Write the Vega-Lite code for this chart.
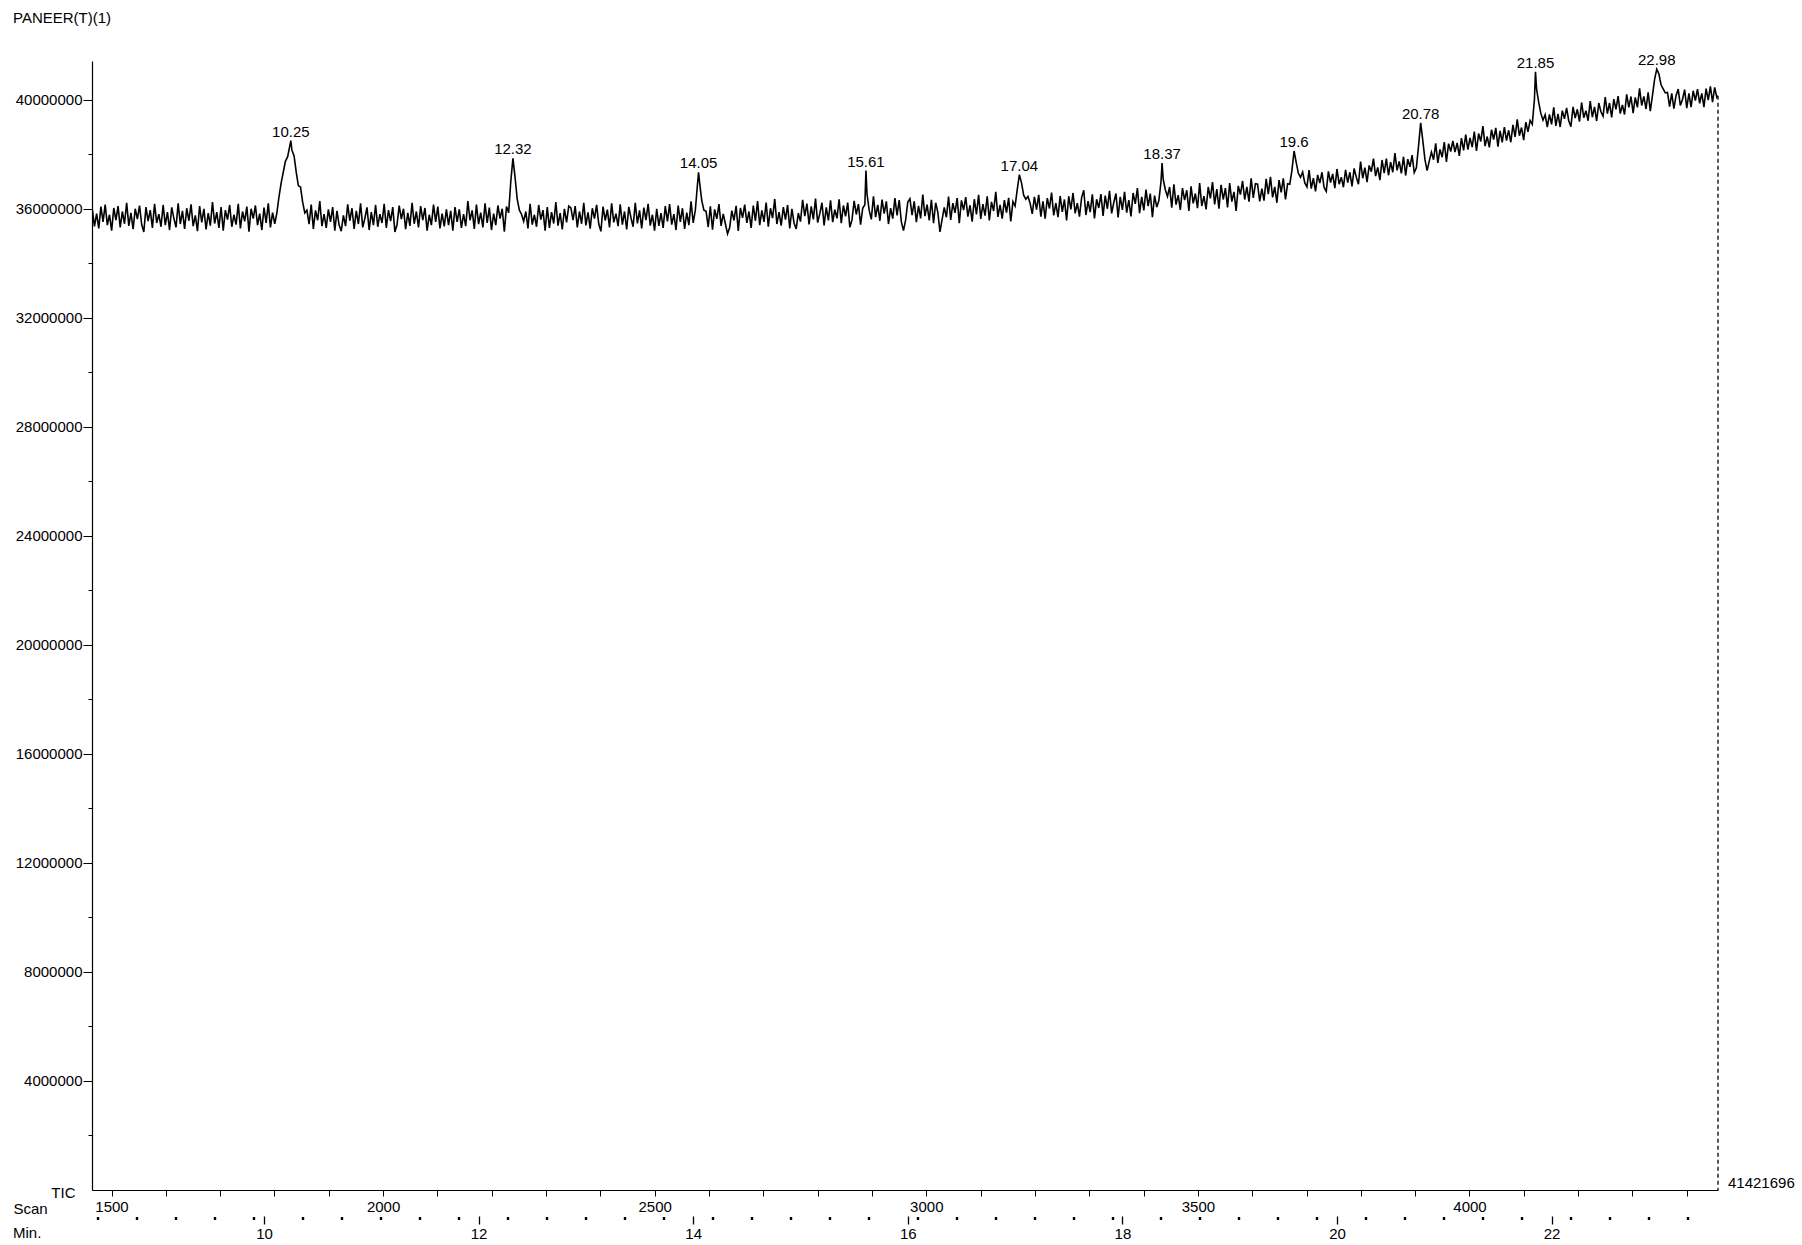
{
"$schema":"https://vega.github.io/schema/vega-lite/v6.json",
"width":1626,"height":1129,
"autosize":{"type":"none"},
"padding":{"left":92,"top":61,"right":84,"bottom":55},
"background":"white",
"title":{"text":"PANEER(T)(1)","anchor":"start","frame":"group","dx":-79,"offset":15,"baseline":"alphabetic","font":"Liberation Sans","fontSize":15,"fontWeight":"normal","color":"black"},
"config":{"view":{"stroke":null},"axis":{"grid":false,"domainColor":"black","tickColor":"black","labelColor":"black","titleColor":"black","labelFont":"Liberation Sans","titleFont":"Liberation Sans","labelFontSize":15,"titleFontSize":15,"titleFontWeight":"normal","labelOverlap":false,"labelFlush":false,"labelBound":false}},
"datasets":{
"tic":[
{"t":8.40,"v":35.98e6},{"t":8.42,"v":35.35e6},{"t":8.44,"v":35.82e6},{"t":8.46,"v":35.28e6},{"t":8.48,"v":36.08e6},{"t":8.50,"v":35.52e6},{"t":8.52,"v":36.15e6},{"t":8.54,"v":35.40e6},{"t":8.56,"v":35.78e6},{"t":8.58,"v":35.20e6},
{"t":8.60,"v":36.03e6},{"t":8.62,"v":35.58e6},{"t":8.64,"v":36.10e6},{"t":8.66,"v":35.32e6},{"t":8.68,"v":35.90e6},{"t":8.70,"v":35.45e6},{"t":8.72,"v":36.22e6},{"t":8.74,"v":35.37e6},{"t":8.76,"v":35.85e6},{"t":8.78,"v":35.25e6},
{"t":8.80,"v":36.00e6},{"t":8.82,"v":35.62e6},{"t":8.84,"v":36.12e6},{"t":8.86,"v":35.42e6},{"t":8.88,"v":35.15e6},{"t":8.90,"v":36.06e6},{"t":8.92,"v":35.55e6},{"t":8.94,"v":35.95e6},{"t":8.96,"v":35.30e6},{"t":8.98,"v":36.18e6},
{"t":9.00,"v":35.48e6},{"t":9.02,"v":35.80e6},{"t":9.04,"v":35.34e6},{"t":9.06,"v":36.14e6},{"t":9.08,"v":35.40e6},{"t":9.10,"v":35.88e6},{"t":9.12,"v":35.22e6},{"t":9.14,"v":36.05e6},{"t":9.16,"v":35.65e6},{"t":9.18,"v":35.32e6},
{"t":9.20,"v":36.20e6},{"t":9.22,"v":35.44e6},{"t":9.24,"v":35.92e6},{"t":9.26,"v":35.26e6},{"t":9.28,"v":36.02e6},{"t":9.30,"v":35.56e6},{"t":9.32,"v":36.16e6},{"t":9.34,"v":35.36e6},{"t":9.36,"v":35.76e6},{"t":9.38,"v":35.18e6},
{"t":9.40,"v":36.10e6},{"t":9.42,"v":35.50e6},{"t":9.44,"v":36.00e6},{"t":9.46,"v":35.24e6},{"t":9.48,"v":35.84e6},{"t":9.50,"v":35.38e6},{"t":9.52,"v":36.25e6},{"t":9.54,"v":35.46e6},{"t":9.56,"v":35.88e6},{"t":9.58,"v":35.30e6},
{"t":9.60,"v":36.06e6},{"t":9.62,"v":35.20e6},{"t":9.64,"v":35.95e6},{"t":9.66,"v":35.60e6},{"t":9.68,"v":36.14e6},{"t":9.70,"v":35.34e6},{"t":9.72,"v":35.78e6},{"t":9.74,"v":35.42e6},{"t":9.76,"v":36.18e6},{"t":9.78,"v":35.28e6},
{"t":9.80,"v":35.90e6},{"t":9.82,"v":35.54e6},{"t":9.84,"v":36.08e6},{"t":9.86,"v":35.16e6},{"t":9.88,"v":36.00e6},{"t":9.90,"v":35.64e6},{"t":9.92,"v":36.12e6},{"t":9.94,"v":35.40e6},{"t":9.96,"v":35.82e6},{"t":9.98,"v":35.22e6},
{"t":10.00,"v":36.04e6},{"t":10.02,"v":35.48e6},{"t":10.04,"v":36.20e6},{"t":10.06,"v":35.32e6},{"t":10.08,"v":35.86e6},
{"t":10.10,"v":35.45e6},{"t":10.12,"v":35.85e6},{"t":10.14,"v":36.45e6},{"t":10.16,"v":36.95e6},{"t":10.18,"v":37.35e6},{"t":10.20,"v":37.75e6},{"t":10.22,"v":37.90e6},{"t":10.24,"v":38.30e6},{"t":10.25,"v":38.50e6},{"t":10.26,"v":38.15e6},
{"t":10.28,"v":37.95e6},{"t":10.30,"v":37.35e6},{"t":10.32,"v":36.85e6},{"t":10.34,"v":36.80e6},{"t":10.36,"v":36.25e6},{"t":10.38,"v":35.85e6},{"t":10.40,"v":35.95e6},
{"t":10.42,"v":35.44e6},{"t":10.44,"v":36.15e6},{"t":10.46,"v":35.26e6},{"t":10.48,"v":35.94e6},{"t":10.50,"v":35.58e6},{"t":10.52,"v":36.28e6},{"t":10.54,"v":35.36e6},{"t":10.56,"v":35.80e6},{"t":10.58,"v":35.30e6},{"t":10.60,"v":35.98e6},
{"t":10.62,"v":35.52e6},{"t":10.64,"v":36.06e6},{"t":10.66,"v":35.20e6},{"t":10.68,"v":35.92e6},{"t":10.70,"v":35.40e6},{"t":10.72,"v":35.18e6},{"t":10.74,"v":35.76e6},{"t":10.76,"v":35.36e6},{"t":10.78,"v":36.16e6},{"t":10.80,"v":35.56e6},
{"t":10.82,"v":36.02e6},{"t":10.84,"v":35.26e6},{"t":10.86,"v":35.92e6},{"t":10.88,"v":35.44e6},{"t":10.90,"v":36.20e6},{"t":10.92,"v":35.32e6},{"t":10.94,"v":35.65e6},{"t":10.96,"v":36.05e6},{"t":10.98,"v":35.22e6},{"t":11.00,"v":35.88e6},
{"t":11.02,"v":35.40e6},{"t":11.04,"v":36.14e6},{"t":11.06,"v":35.34e6},{"t":11.08,"v":35.80e6},{"t":11.10,"v":35.48e6},{"t":11.12,"v":36.18e6},{"t":11.14,"v":35.30e6},{"t":11.16,"v":35.95e6},{"t":11.18,"v":35.55e6},{"t":11.20,"v":36.06e6},
{"t":11.22,"v":35.15e6},{"t":11.24,"v":35.42e6},{"t":11.26,"v":36.12e6},{"t":11.28,"v":35.62e6},{"t":11.30,"v":36.00e6},{"t":11.32,"v":35.25e6},{"t":11.34,"v":35.85e6},{"t":11.36,"v":35.37e6},{"t":11.38,"v":36.22e6},{"t":11.40,"v":35.45e6},
{"t":11.42,"v":35.90e6},{"t":11.44,"v":35.32e6},{"t":11.46,"v":36.10e6},{"t":11.48,"v":35.58e6},{"t":11.50,"v":36.03e6},{"t":11.52,"v":35.20e6},{"t":11.54,"v":35.78e6},{"t":11.56,"v":35.40e6},{"t":11.58,"v":36.15e6},{"t":11.60,"v":35.52e6},
{"t":11.62,"v":36.08e6},{"t":11.64,"v":35.28e6},{"t":11.66,"v":35.82e6},{"t":11.68,"v":35.35e6},{"t":11.70,"v":35.98e6},{"t":11.72,"v":35.40e6},{"t":11.74,"v":35.92e6},{"t":11.76,"v":35.20e6},{"t":11.78,"v":36.06e6},{"t":11.80,"v":35.52e6},
{"t":11.82,"v":35.98e6},{"t":11.84,"v":35.30e6},{"t":11.86,"v":35.80e6},{"t":11.88,"v":35.36e6},{"t":11.90,"v":36.28e6},{"t":11.92,"v":35.58e6},{"t":11.94,"v":35.94e6},{"t":11.96,"v":35.26e6},{"t":11.98,"v":36.15e6},{"t":12.00,"v":35.44e6},
{"t":12.02,"v":35.86e6},{"t":12.04,"v":35.32e6},{"t":12.06,"v":36.20e6},{"t":12.08,"v":35.48e6},{"t":12.10,"v":36.04e6},{"t":12.12,"v":35.22e6},{"t":12.14,"v":35.82e6},{"t":12.16,"v":35.40e6},{"t":12.18,"v":36.12e6},{"t":12.20,"v":35.64e6},
{"t":12.22,"v":36.00e6},{"t":12.24,"v":35.16e6},{"t":12.26,"v":36.08e6},
{"t":12.28,"v":35.85e6},{"t":12.30,"v":37.00e6},{"t":12.32,"v":37.85e6},{"t":12.34,"v":37.15e6},{"t":12.36,"v":36.35e6},{"t":12.38,"v":35.95e6},{"t":12.40,"v":35.80e6},
{"t":12.42,"v":35.54e6},{"t":12.44,"v":35.90e6},{"t":12.46,"v":35.28e6},{"t":12.48,"v":36.18e6},{"t":12.50,"v":35.42e6},{"t":12.52,"v":35.78e6},{"t":12.54,"v":35.34e6},{"t":12.56,"v":36.14e6},{"t":12.58,"v":35.60e6},{"t":12.60,"v":35.95e6},
{"t":12.62,"v":35.20e6},{"t":12.64,"v":36.06e6},{"t":12.66,"v":35.30e6},{"t":12.68,"v":35.88e6},{"t":12.70,"v":35.46e6},{"t":12.72,"v":36.25e6},{"t":12.74,"v":35.38e6},{"t":12.76,"v":35.84e6},{"t":12.78,"v":35.24e6},{"t":12.80,"v":36.00e6},
{"t":12.82,"v":35.50e6},{"t":12.84,"v":36.10e6},{"t":12.86,"v":36.03e6},{"t":12.88,"v":35.58e6},{"t":12.90,"v":36.10e6},{"t":12.92,"v":35.32e6},{"t":12.94,"v":35.90e6},{"t":12.96,"v":35.45e6},{"t":12.98,"v":36.22e6},{"t":13.00,"v":35.39e6},
{"t":13.02,"v":35.87e6},{"t":13.04,"v":35.27e6},{"t":13.06,"v":36.02e6},{"t":13.08,"v":35.64e6},{"t":13.10,"v":36.14e6},{"t":13.12,"v":35.44e6},{"t":13.14,"v":35.17e6},{"t":13.16,"v":36.08e6},{"t":13.18,"v":35.57e6},{"t":13.20,"v":35.97e6},
{"t":13.22,"v":35.32e6},{"t":13.24,"v":36.20e6},{"t":13.26,"v":35.50e6},{"t":13.28,"v":35.82e6},{"t":13.30,"v":35.36e6},{"t":13.32,"v":36.16e6},{"t":13.34,"v":35.42e6},{"t":13.36,"v":35.90e6},{"t":13.38,"v":35.24e6},{"t":13.40,"v":36.07e6},
{"t":13.42,"v":35.67e6},{"t":13.44,"v":35.34e6},{"t":13.46,"v":36.22e6},{"t":13.48,"v":35.46e6},{"t":13.50,"v":35.94e6},{"t":13.52,"v":35.28e6},{"t":13.54,"v":36.04e6},{"t":13.56,"v":35.58e6},{"t":13.58,"v":36.18e6},{"t":13.60,"v":35.38e6},
{"t":13.62,"v":35.78e6},{"t":13.64,"v":35.20e6},{"t":13.66,"v":36.00e6},{"t":13.68,"v":35.37e6},{"t":13.70,"v":35.84e6},{"t":13.72,"v":35.30e6},{"t":13.74,"v":36.10e6},{"t":13.76,"v":35.54e6},{"t":13.78,"v":36.17e6},{"t":13.80,"v":35.42e6},
{"t":13.82,"v":35.80e6},{"t":13.84,"v":35.22e6},{"t":13.86,"v":36.12e6},{"t":13.88,"v":35.52e6},{"t":13.90,"v":36.02e6},{"t":13.92,"v":35.26e6},{"t":13.94,"v":35.86e6},{"t":13.96,"v":35.40e6},{"t":13.98,"v":36.27e6},{"t":14.00,"v":35.48e6},
{"t":14.02,"v":35.95e6},{"t":14.04,"v":36.90e6},{"t":14.05,"v":37.34e6},{"t":14.06,"v":36.95e6},{"t":14.08,"v":36.30e6},{"t":14.10,"v":35.95e6},
{"t":14.12,"v":35.91e6},{"t":14.14,"v":35.33e6},{"t":14.16,"v":36.09e6},{"t":14.18,"v":35.23e6},{"t":14.20,"v":35.98e6},{"t":14.22,"v":35.63e6},{"t":14.24,"v":36.17e6},{"t":14.26,"v":35.37e6},{"t":14.28,"v":35.81e6},{"t":14.30,"v":35.45e6},
{"t":14.32,"v":35.08e6},{"t":14.34,"v":35.31e6},{"t":14.36,"v":35.93e6},{"t":14.38,"v":35.57e6},{"t":14.40,"v":36.11e6},{"t":14.42,"v":35.19e6},{"t":14.44,"v":36.03e6},{"t":14.46,"v":35.67e6},{"t":14.48,"v":36.15e6},{"t":14.50,"v":35.48e6},
{"t":14.52,"v":35.90e6},{"t":14.54,"v":35.30e6},{"t":14.56,"v":36.12e6},{"t":14.58,"v":35.56e6},{"t":14.60,"v":36.28e6},{"t":14.62,"v":35.40e6},{"t":14.64,"v":35.94e6},{"t":14.66,"v":35.52e6},{"t":14.68,"v":36.23e6},{"t":14.70,"v":35.34e6},
{"t":14.72,"v":36.02e6},{"t":14.74,"v":35.66e6},{"t":14.76,"v":36.36e6},{"t":14.78,"v":35.44e6},{"t":14.80,"v":35.88e6},{"t":14.82,"v":35.38e6},{"t":14.84,"v":36.06e6},{"t":14.86,"v":35.60e6},{"t":14.88,"v":36.14e6},{"t":14.90,"v":35.28e6},
{"t":14.92,"v":36.00e6},{"t":14.94,"v":35.48e6},{"t":14.96,"v":35.26e6},{"t":14.98,"v":35.84e6},{"t":15.00,"v":35.53e6},{"t":15.02,"v":36.33e6},{"t":15.04,"v":35.73e6},{"t":15.06,"v":36.19e6},{"t":15.08,"v":35.43e6},{"t":15.10,"v":36.09e6},
{"t":15.12,"v":35.61e6},{"t":15.14,"v":36.37e6},{"t":15.16,"v":35.49e6},{"t":15.18,"v":35.82e6},{"t":15.20,"v":36.22e6},{"t":15.22,"v":35.39e6},{"t":15.24,"v":36.05e6},{"t":15.26,"v":35.57e6},{"t":15.28,"v":36.31e6},{"t":15.30,"v":35.51e6},
{"t":15.32,"v":35.97e6},{"t":15.34,"v":35.65e6},{"t":15.36,"v":36.35e6},{"t":15.38,"v":35.47e6},{"t":15.40,"v":36.12e6},{"t":15.42,"v":35.72e6},{"t":15.44,"v":36.23e6},{"t":15.46,"v":35.32e6},{"t":15.48,"v":35.59e6},{"t":15.50,"v":36.29e6},
{"t":15.52,"v":35.79e6},{"t":15.54,"v":36.17e6},{"t":15.56,"v":35.42e6},{"t":15.58,"v":36.02e6},
{"t":15.60,"v":36.15e6},{"t":15.61,"v":37.40e6},{"t":15.62,"v":36.55e6},{"t":15.64,"v":35.95e6},
{"t":15.66,"v":35.61e6},{"t":15.68,"v":36.46e6},{"t":15.70,"v":35.69e6},{"t":15.72,"v":36.14e6},{"t":15.74,"v":35.56e6},{"t":15.76,"v":36.34e6},{"t":15.78,"v":35.82e6},{"t":15.80,"v":36.27e6},{"t":15.82,"v":35.44e6},{"t":15.84,"v":36.02e6},
{"t":15.86,"v":35.64e6},{"t":15.88,"v":36.39e6},{"t":15.90,"v":35.76e6},{"t":15.92,"v":36.32e6},{"t":15.94,"v":35.52e6},{"t":15.96,"v":35.20e6},{"t":15.98,"v":35.59e6},{"t":16.00,"v":36.25e6},{"t":16.02,"v":36.37e6},{"t":16.04,"v":35.77e6},
{"t":16.06,"v":36.27e6},{"t":16.08,"v":35.51e6},{"t":16.10,"v":36.11e6},{"t":16.12,"v":35.65e6},{"t":16.14,"v":36.52e6},{"t":16.16,"v":35.73e6},{"t":16.18,"v":36.15e6},{"t":16.20,"v":35.57e6},{"t":16.22,"v":36.33e6},{"t":16.24,"v":35.47e6},
{"t":16.26,"v":36.22e6},{"t":16.28,"v":35.87e6},{"t":16.30,"v":35.15e6},{"t":16.32,"v":35.61e6},{"t":16.34,"v":36.05e6},{"t":16.36,"v":35.69e6},{"t":16.38,"v":36.45e6},{"t":16.40,"v":35.59e6},{"t":16.42,"v":36.21e6},{"t":16.44,"v":35.85e6},
{"t":16.46,"v":36.39e6},{"t":16.48,"v":35.47e6},{"t":16.50,"v":36.31e6},{"t":16.52,"v":35.95e6},{"t":16.54,"v":36.43e6},{"t":16.56,"v":35.71e6},{"t":16.58,"v":36.13e6},{"t":16.60,"v":35.53e6},{"t":16.62,"v":36.35e6},{"t":16.64,"v":35.79e6},
{"t":16.66,"v":36.51e6},{"t":16.68,"v":35.63e6},{"t":16.70,"v":36.17e6},{"t":16.72,"v":35.75e6},{"t":16.74,"v":36.46e6},{"t":16.76,"v":35.57e6},{"t":16.78,"v":36.25e6},{"t":16.80,"v":35.92e6},{"t":16.82,"v":36.62e6},{"t":16.84,"v":35.70e6},
{"t":16.86,"v":36.14e6},{"t":16.88,"v":35.64e6},{"t":16.90,"v":36.32e6},{"t":16.92,"v":35.86e6},{"t":16.94,"v":36.40e6},{"t":16.96,"v":35.54e6},{"t":16.98,"v":36.26e6},
{"t":17.00,"v":36.10e6},{"t":17.02,"v":36.70e6},{"t":17.04,"v":37.25e6},{"t":17.06,"v":36.95e6},{"t":17.08,"v":36.50e6},{"t":17.10,"v":36.35e6},{"t":17.12,"v":36.45e6},{"t":17.14,"v":36.20e6},
{"t":17.16,"v":35.81e6},{"t":17.18,"v":36.44e6},{"t":17.20,"v":35.97e6},{"t":17.22,"v":36.51e6},{"t":17.24,"v":35.71e6},{"t":17.26,"v":36.27e6},{"t":17.28,"v":35.64e6},{"t":17.30,"v":36.39e6},{"t":17.32,"v":36.01e6},{"t":17.34,"v":36.59e6},
{"t":17.36,"v":35.76e6},{"t":17.38,"v":36.21e6},{"t":17.40,"v":35.69e6},{"t":17.42,"v":36.47e6},{"t":17.44,"v":35.89e6},{"t":17.46,"v":36.34e6},{"t":17.48,"v":35.57e6},{"t":17.50,"v":36.46e6},{"t":17.52,"v":35.98e6},{"t":17.54,"v":36.58e6},
{"t":17.56,"v":35.83e6},{"t":17.58,"v":36.21e6},{"t":17.60,"v":35.71e6},{"t":17.62,"v":36.41e6},{"t":17.64,"v":36.68e6},{"t":17.66,"v":35.77e6},{"t":17.68,"v":36.28e6},{"t":17.70,"v":35.88e6},{"t":17.72,"v":36.53e6},{"t":17.74,"v":35.65e6},
{"t":17.76,"v":36.35e6},{"t":17.78,"v":36.03e6},{"t":17.80,"v":36.54e6},{"t":17.82,"v":35.74e6},{"t":17.84,"v":36.48e6},{"t":17.86,"v":36.00e6},{"t":17.88,"v":36.66e6},{"t":17.90,"v":35.83e6},{"t":17.92,"v":36.23e6},{"t":17.94,"v":36.56e6},
{"t":17.96,"v":35.68e6},{"t":17.98,"v":36.44e6},{"t":18.00,"v":35.96e6},{"t":18.02,"v":36.62e6},{"t":18.04,"v":35.86e6},{"t":18.06,"v":36.32e6},{"t":18.08,"v":35.72e6},{"t":18.10,"v":36.58e6},{"t":18.12,"v":36.18e6},{"t":18.14,"v":36.76e6},
{"t":18.16,"v":35.84e6},{"t":18.18,"v":36.44e6},{"t":18.20,"v":35.94e6},{"t":18.22,"v":36.70e6},{"t":18.24,"v":36.10e6},{"t":18.26,"v":36.56e6},{"t":18.28,"v":35.69e6},{"t":18.30,"v":36.48e6},{"t":18.32,"v":36.06e6},
{"t":18.34,"v":36.30e6},{"t":18.36,"v":37.00e6},{"t":18.37,"v":37.68e6},{"t":18.38,"v":37.10e6},{"t":18.40,"v":36.70e6},{"t":18.42,"v":36.45e6},
{"t":18.44,"v":36.80e6},{"t":18.46,"v":36.04e6},{"t":18.48,"v":36.90e6},{"t":18.50,"v":36.15e6},{"t":18.52,"v":36.50e6},{"t":18.54,"v":35.96e6},{"t":18.56,"v":36.76e6},{"t":18.58,"v":36.32e6},{"t":18.60,"v":36.68e6},{"t":18.62,"v":35.92e6},
{"t":18.64,"v":36.82e6},{"t":18.66,"v":36.20e6},{"t":18.68,"v":36.56e6},{"t":18.70,"v":36.02e6},{"t":18.72,"v":36.94e6},{"t":18.74,"v":36.10e6},{"t":18.76,"v":36.46e6},{"t":18.78,"v":35.98e6},{"t":18.80,"v":36.80e6},{"t":18.82,"v":36.38e6},
{"t":18.84,"v":36.98e6},{"t":18.86,"v":36.16e6},{"t":18.88,"v":36.72e6},{"t":18.90,"v":36.00e6},{"t":18.92,"v":36.88e6},{"t":18.94,"v":36.34e6},{"t":18.96,"v":36.76e6},{"t":18.98,"v":36.05e6},{"t":19.00,"v":36.94e6},{"t":19.02,"v":36.26e6},
{"t":19.04,"v":36.62e6},{"t":19.06,"v":35.92e6},{"t":19.08,"v":36.84e6},{"t":19.10,"v":36.52e6},{"t":19.12,"v":37.02e6},{"t":19.14,"v":36.34e6},{"t":19.16,"v":36.80e6},{"t":19.18,"v":36.26e6},{"t":19.20,"v":37.12e6},{"t":19.22,"v":36.40e6},
{"t":19.24,"v":36.92e6},{"t":19.26,"v":36.90e6},{"t":19.28,"v":36.27e6},{"t":19.30,"v":36.74e6},{"t":19.32,"v":36.30e6},{"t":19.34,"v":37.10e6},{"t":19.36,"v":36.54e6},{"t":19.38,"v":37.17e6},{"t":19.40,"v":36.42e6},{"t":19.42,"v":36.80e6},
{"t":19.44,"v":36.22e6},{"t":19.46,"v":37.05e6},{"t":19.48,"v":36.60e6},{"t":19.50,"v":37.12e6},{"t":19.52,"v":36.34e6},{"t":19.54,"v":36.92e6},
{"t":19.56,"v":36.90e6},{"t":19.58,"v":37.40e6},{"t":19.60,"v":38.12e6},{"t":19.62,"v":37.70e6},{"t":19.64,"v":37.30e6},{"t":19.66,"v":37.15e6},{"t":19.68,"v":37.35e6},{"t":19.70,"v":36.95e6},
{"t":19.72,"v":36.80e6},{"t":19.74,"v":37.42e6},{"t":19.76,"v":36.74e6},{"t":19.78,"v":37.12e6},{"t":19.80,"v":36.64e6},{"t":19.82,"v":37.24e6},{"t":19.84,"v":36.94e6},{"t":19.86,"v":37.34e6},{"t":19.88,"v":36.78e6},{"t":19.90,"v":36.64e6},
{"t":19.92,"v":37.37e6},{"t":19.94,"v":36.96e6},{"t":19.96,"v":37.28e6},{"t":19.98,"v":36.76e6},{"t":20.00,"v":37.46e6},{"t":20.02,"v":36.90e6},{"t":20.04,"v":37.16e6},{"t":20.06,"v":36.79e6},{"t":20.08,"v":37.43e6},{"t":20.10,"v":36.96e6},
{"t":20.12,"v":37.34e6},{"t":20.14,"v":36.82e6},{"t":20.16,"v":37.48e6},{"t":20.18,"v":37.16e6},{"t":20.20,"v":36.90e6},{"t":20.22,"v":37.73e6},{"t":20.24,"v":37.12e6},{"t":20.26,"v":37.51e6},{"t":20.28,"v":36.98e6},{"t":20.30,"v":37.59e6},
{"t":20.32,"v":37.36e6},{"t":20.34,"v":37.84e6},{"t":20.36,"v":37.20e6},{"t":20.38,"v":37.52e6},{"t":20.40,"v":37.05e6},{"t":20.42,"v":37.79e6},{"t":20.44,"v":37.31e6},{"t":20.46,"v":37.84e6},{"t":20.48,"v":37.23e6},{"t":20.50,"v":37.71e6},
{"t":20.52,"v":37.34e6},{"t":20.54,"v":38.04e6},{"t":20.56,"v":37.41e6},{"t":20.58,"v":37.74e6},{"t":20.60,"v":37.30e6},{"t":20.62,"v":37.91e6},{"t":20.64,"v":37.22e6},{"t":20.66,"v":37.82e6},{"t":20.68,"v":37.54e6},{"t":20.70,"v":37.97e6},
{"t":20.72,"v":37.33e6},
{"t":20.74,"v":37.50e6},{"t":20.76,"v":38.30e6},{"t":20.78,"v":39.15e6},{"t":20.80,"v":38.50e6},{"t":20.82,"v":37.80e6},{"t":20.84,"v":37.40e6},{"t":20.86,"v":37.75e6},
{"t":20.88,"v":38.08e6},{"t":20.90,"v":37.80e6},{"t":20.92,"v":38.40e6},{"t":20.94,"v":37.68e6},{"t":20.96,"v":38.18e6},{"t":20.98,"v":37.89e6},{"t":21.00,"v":38.45e6},{"t":21.02,"v":37.72e6},{"t":21.04,"v":38.39e6},{"t":21.06,"v":38.10e6},
{"t":21.08,"v":38.49e6},{"t":21.10,"v":38.08e6},{"t":21.12,"v":38.42e6},{"t":21.14,"v":37.94e6},{"t":21.16,"v":38.59e6},{"t":21.18,"v":38.14e6},{"t":21.20,"v":38.72e6},{"t":21.22,"v":38.17e6},{"t":21.24,"v":38.60e6},{"t":21.26,"v":38.26e6},
{"t":21.28,"v":38.83e6},{"t":21.30,"v":38.12e6},{"t":21.32,"v":38.76e6},{"t":21.34,"v":38.47e6},{"t":21.36,"v":39.03e6},{"t":21.38,"v":38.30e6},{"t":21.40,"v":38.65e6},{"t":21.42,"v":38.25e6},{"t":21.44,"v":38.90e6},{"t":21.46,"v":38.54e6},
{"t":21.48,"v":38.97e6},{"t":21.50,"v":38.28e6},{"t":21.52,"v":38.86e6},{"t":21.54,"v":38.44e6},{"t":21.56,"v":39.00e6},{"t":21.58,"v":38.50e6},{"t":21.60,"v":38.88e6},{"t":21.62,"v":38.44e6},{"t":21.64,"v":39.08e6},{"t":21.66,"v":38.64e6},
{"t":21.68,"v":39.28e6},{"t":21.70,"v":38.68e6},{"t":21.72,"v":38.98e6},{"t":21.74,"v":38.52e6},{"t":21.76,"v":39.18e6},{"t":21.78,"v":38.82e6},{"t":21.80,"v":39.24e6},
{"t":21.82,"v":39.10e6},{"t":21.84,"v":40.00e6},{"t":21.85,"v":41.03e6},{"t":21.86,"v":40.40e6},{"t":21.88,"v":39.90e6},{"t":21.90,"v":39.50e6},{"t":21.92,"v":39.25e6},{"t":21.94,"v":39.45e6},
{"t":21.96,"v":39.00e6},{"t":21.98,"v":39.46e6},{"t":22.00,"v":39.10e6},{"t":22.02,"v":39.72e6},{"t":22.04,"v":39.04e6},{"t":22.06,"v":39.48e6},{"t":22.08,"v":39.00e6},{"t":22.10,"v":39.60e6},{"t":22.12,"v":39.30e6},{"t":22.14,"v":39.70e6},
{"t":22.16,"v":39.23e6},{"t":22.18,"v":39.01e6},{"t":22.20,"v":39.74e6},{"t":22.22,"v":39.33e6},{"t":22.24,"v":39.65e6},{"t":22.26,"v":39.20e6},{"t":22.28,"v":39.90e6},{"t":22.30,"v":39.34e6},{"t":22.32,"v":39.60e6},{"t":22.34,"v":39.23e6},
{"t":22.36,"v":39.95e6},{"t":22.38,"v":39.36e6},{"t":22.40,"v":39.74e6},{"t":22.42,"v":39.22e6},{"t":22.44,"v":39.88e6},{"t":22.46,"v":39.56e6},{"t":22.48,"v":39.40e6},{"t":22.50,"v":40.10e6},{"t":22.52,"v":39.49e6},{"t":22.54,"v":39.88e6},
{"t":22.56,"v":39.35e6},{"t":22.58,"v":40.02e6},{"t":22.60,"v":39.65e6},{"t":22.62,"v":40.13e6},{"t":22.64,"v":39.49e6},{"t":22.66,"v":39.81e6},{"t":22.68,"v":39.46e6},{"t":22.70,"v":40.20e6},{"t":22.72,"v":39.72e6},{"t":22.74,"v":40.12e6},
{"t":22.76,"v":39.51e6},{"t":22.78,"v":40.09e6},{"t":22.80,"v":39.72e6},{"t":22.82,"v":40.42e6},{"t":22.84,"v":39.79e6},{"t":22.86,"v":40.12e6},{"t":22.88,"v":39.66e6},{"t":22.90,"v":40.27e6},{"t":22.92,"v":39.58e6},
{"t":22.94,"v":40.15e6},{"t":22.96,"v":40.75e6},{"t":22.98,"v":41.12e6},{"t":23.00,"v":40.95e6},{"t":23.02,"v":40.55e6},{"t":23.04,"v":40.40e6},{"t":23.06,"v":40.25e6},
{"t":23.08,"v":40.27e6},{"t":23.10,"v":39.75e6},{"t":23.12,"v":40.23e6},{"t":23.14,"v":39.67e6},{"t":23.16,"v":40.15e6},{"t":23.18,"v":40.39e6},{"t":23.20,"v":39.79e6},{"t":23.22,"v":40.01e6},{"t":23.24,"v":40.37e6},{"t":23.26,"v":39.69e6},
{"t":23.28,"v":40.23e6},{"t":23.30,"v":39.73e6},{"t":23.32,"v":40.33e6},{"t":23.34,"v":39.97e6},{"t":23.36,"v":40.39e6},{"t":23.38,"v":39.87e6},{"t":23.40,"v":40.23e6},{"t":23.42,"v":39.73e6},{"t":23.44,"v":40.41e6},{"t":23.46,"v":39.99e6},
{"t":23.48,"v":40.49e6},{"t":23.50,"v":39.91e6},{"t":23.52,"v":40.45e6},{"t":23.54,"v":40.09e6},{"t":23.551,"v":40.15e6}
],
"peaks":[
{"t":10.25,"v":38.50e6,"label":"10.25"},{"t":12.32,"v":37.85e6,"label":"12.32"},{"t":14.05,"v":37.34e6,"label":"14.05"},{"t":15.61,"v":37.40e6,"label":"15.61"},{"t":17.04,"v":37.25e6,"label":"17.04"},
{"t":18.37,"v":37.68e6,"label":"18.37"},{"t":19.60,"v":38.12e6,"label":"19.6"},{"t":20.78,"v":39.15e6,"label":"20.78"},{"t":21.85,"v":41.03e6,"label":"21.85"},{"t":22.98,"v":41.12e6,"label":"22.98"}
],
"end":[{"t":23.551,"v":40.15e6,"max":"41421696"}],
"minutes":[{"m":8.397},{"m":23.551}],
"scan":[{"s":1464.1},{"s":4457.5}]
},
"layer":[
{"layer":[
{"data":{"name":"tic"},"mark":{"type":"line","color":"black","strokeWidth":1.6,"clip":true},
"encoding":{
"x":{"field":"t","type":"quantitative","scale":{"domain":[8.397,23.551],"nice":false,"zero":false},
"axis":{"orient":"bottom","offset":27,"translate":0,"domain":false,"labels":false,"tickRound":true,
"values":[8.4545,8.5455,8.6364,8.7273,8.8182,8.9091,9,9.0909,9.1818,9.2727,9.3636,9.4545,9.5455,9.6364,9.7273,9.8182,9.9091,10.0909,10.1818,10.2727,10.3636,10.4545,10.5455,10.6364,10.7273,10.8182,10.9091,11,11.0909,11.1818,11.2727,11.3636,11.4545,11.5455,11.6364,11.7273,11.8182,11.9091,12.0909,12.1818,12.2727,12.3636,12.4545,12.5455,12.6364,12.7273,12.8182,12.9091,13,13.0909,13.1818,13.2727,13.3636,13.4545,13.5455,13.6364,13.7273,13.8182,13.9091,14.0909,14.1818,14.2727,14.3636,14.4545,14.5455,14.6364,14.7273,14.8182,14.9091,15,15.0909,15.1818,15.2727,15.3636,15.4545,15.5455,15.6364,15.7273,15.8182,15.9091,16.0909,16.1818,16.2727,16.3636,16.4545,16.5455,16.6364,16.7273,16.8182,16.9091,17,17.0909,17.1818,17.2727,17.3636,17.4545,17.5455,17.6364,17.7273,17.8182,17.9091,18.0909,18.1818,18.2727,18.3636,18.4545,18.5455,18.6364,18.7273,18.8182,18.9091,19,19.0909,19.1818,19.2727,19.3636,19.4545,19.5455,19.6364,19.7273,19.8182,19.9091,20.0909,20.1818,20.2727,20.3636,20.4545,20.5455,20.6364,20.7273,20.8182,20.9091,21,21.0909,21.1818,21.2727,21.3636,21.4545,21.5455,21.6364,21.7273,21.8182,21.9091,22.0909,22.1818,22.2727,22.3636,22.4545,22.5455,22.6364,22.7273,22.8182,22.9091,23,23.0909,23.1818,23.2727,23.3636,23.4545,23.5455],
"tickSize":3,"tickWidth":2.4,"tickColor":"black",
"title":"Min.","titleX":-79,"titleY":9,"titleAlign":"left","titleBaseline":"top","titleAnchor":"start"}},
"y":{"field":"v","type":"quantitative","scale":{"domain":[0,41421696],"nice":false,"zero":false},
"axis":{"values":[2000000,4000000,6000000,8000000,10000000,12000000,14000000,16000000,18000000,20000000,22000000,24000000,26000000,28000000,30000000,32000000,34000000,36000000,38000000,40000000],
"format":"d",
"labelExpr":"datum.value % 4000000 === 0 ? datum.label : ''",
"tickSize":{"condition":{"test":"datum.value % 4000000 === 0","value":9},"value":4},
"labelPadding":1,"domainWidth":1.2,
"title":"TIC","titleAngle":0,"titleX":-17,"titleY":1136,"titleAlign":"right","titleBaseline":"alphabetic","titleAnchor":"start"}}}},
{"data":{"name":"peaks"},"mark":{"type":"text","align":"center","baseline":"alphabetic","dy":-4,"font":"Liberation Sans","fontSize":15,"color":"black"},
"encoding":{"x":{"field":"t","type":"quantitative"},"y":{"field":"v","type":"quantitative"},"text":{"field":"label"}}},
{"data":{"name":"end"},"mark":{"type":"rule","color":"black","strokeWidth":1.3,"strokeDash":[4,3]},
"encoding":{"x":{"field":"t","type":"quantitative"},"y":{"field":"v","type":"quantitative"},"y2":{"datum":0}}},
{"data":{"name":"end"},"mark":{"type":"text","align":"left","baseline":"alphabetic","dx":10,"dy":-2,"font":"Liberation Sans","fontSize":15,"color":"black"},
"encoding":{"x":{"field":"t","type":"quantitative"},"y":{"datum":0,"type":"quantitative"},"text":{"field":"max"}}}
]},
{"data":{"name":"minutes"},"mark":{"type":"point","opacity":0},
"encoding":{"x":{"field":"m","type":"quantitative","scale":{"domain":[8.397,23.551],"nice":false,"zero":false},
"axis":{"orient":"bottom","offset":26,"domain":false,"values":[10,12,14,16,18,20,22],"format":"d","tickSize":8,"tickWidth":1.3,"labelPadding":2,"title":null}}}},
{"data":{"name":"scan"},"mark":{"type":"point","opacity":0},
"encoding":{"x":{"field":"s","type":"quantitative","scale":{"domain":[1464.1,4457.5],"nice":false,"zero":false},
"axis":{"orient":"bottom","values":[1500,1600,1700,1800,1900,2000,2100,2200,2300,2400,2500,2600,2700,2800,2900,3000,3100,3200,3300,3400,3500,3600,3700,3800,3900,4000,4100,4200,4300,4400],
"format":"d","labelExpr":"datum.value % 500 === 0 ? datum.label : ''","tickSize":6,"labelPadding":3,"domainWidth":1.2,
"title":"Scan","titleX":-79,"titleY":11,"titleAlign":"left","titleBaseline":"top","titleAnchor":"start"}}}}
],
"resolve":{"scale":{"x":"independent"},"axis":{"x":"independent"}}
}
